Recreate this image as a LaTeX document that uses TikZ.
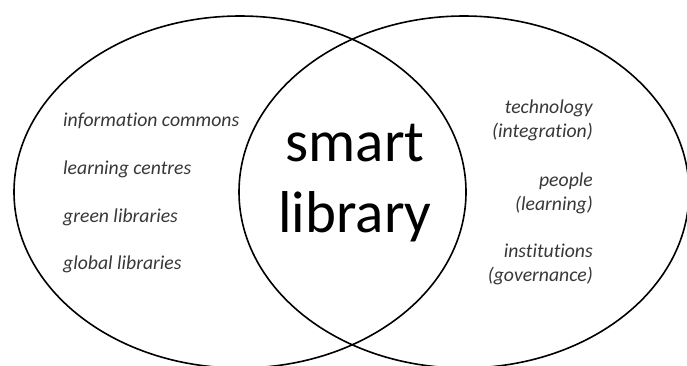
\documentclass[tikz,border=0pt]{standalone}
\usepackage{fontspec}
\setmainfont{Carlito}[Ligatures=NoCommon]
\begin{document}
\begin{tikzpicture}[x=1pt,y=-1pt,
  ring/.style={draw=black,line width=1.6pt},
  item/.style={font=\itshape\fontsize{19.7}{24}\selectfont,text=black!78,inner sep=0pt},
  big/.style={font=\fontsize{59}{71}\selectfont,text=black,inner sep=0pt,align=center}]
\useasboundingbox (0,0) rectangle (687,365);
\clip (0,0) rectangle (687,365);
\fill[white] (0,0) rectangle (687,365);
\draw[ring] (240,192) ellipse [x radius=226, y radius=176];
\draw[ring] (464,192) ellipse [x radius=225, y radius=176];
\node[item,anchor=west] (ic) at (63,121) {information commons};
\node[item,anchor=west] (lc) at (63,169) {learning centres};
\node[item,anchor=west] (gr) at (63,217) {green libraries};
\node[item,anchor=west] (gl) at (63,264) {global libraries};
\node[item,anchor=east,align=right] (tech) at (593,120) {technology\\(integration)};
\node[item,anchor=east,align=right] (peop) at (593,193.5) {people\\(learning)};
\node[item,anchor=east,align=right] (inst) at (593,264) {institutions\\(governance)};
\node[big] (sl) at (355,183) {smart\\library};
\end{tikzpicture}
\end{document}
